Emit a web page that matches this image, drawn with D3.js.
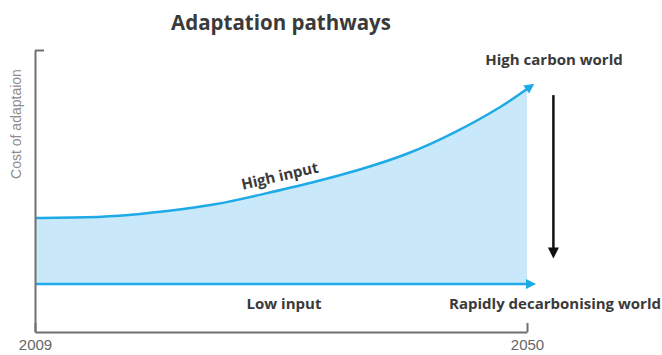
<!DOCTYPE html>
<html>
<head>
<meta charset="utf-8">
<script src="https://cdn.jsdelivr.net/npm/d3@7"></script>
<style>
  body { margin: 0; background: #fff; }
  svg { display: block; }
</style>
</head>
<body>
<svg width="662" height="355"></svg>
<script>
// data
const years = [2009, 2012, 2016, 2020, 2024, 2028, 2032, 2036, 2040, 2044, 2048, 2050];
const highInput = [40.4, 40.5, 41.0, 42.9, 45.0, 48.9, 52.8, 57.4, 62.8, 70.6, 80.1, 86.2];
const lowInput = [17, 17];
const lowYears = [2009, 2050];
const xTicks = [2009, 2050];
const shiftArrow = { year: 2052.2, from: 84, to: 26 };

const svg = d3.select("svg");

const x = d3.scaleLinear().domain([2009, 2050]).range([35, 527]);
const y = d3.scaleLinear().domain([0, 100]).range([332, 50]);

const blue = "#1eaae6";
const fill = "#c9e9fb";
const textCol = "#3a3a3a";

let high = years.map((d, i) => ({ year: d, v: highInput[i] }));
let low = lowYears.map((d, i) => ({ year: d, v: lowInput[i] }));

// markers
let defs = svg.append("defs");
defs.append("marker")
    .attr("id", "blueHead")
    .attr("viewBox", "0 0 10 10")
    .attr("refX", 1).attr("refY", 5)
    .attr("markerWidth", 12).attr("markerHeight", 10)
    .attr("markerUnits", "userSpaceOnUse")
    .attr("orient", "auto")
    .append("path")
    .attr("d", "M0,0L10,5L0,10z")
    .attr("fill", blue);
defs.append("marker")
    .attr("id", "blackHead")
    .attr("viewBox", "0 0 10 10")
    .attr("refX", 1).attr("refY", 5)
    .attr("markerWidth", 12).attr("markerHeight", 11)
    .attr("markerUnits", "userSpaceOnUse")
    .attr("orient", "auto")
    .append("path")
    .attr("d", "M0,0L10,5L0,10z")
    .attr("fill", "#111");

// shaded band between high and low input
let area = d3.area()
    .x(d => x(d.year))
    .y0(y(lowInput[0]))
    .y1(d => y(d.v))
    .curve(d3.curveBasis);

svg.append("path")
    .datum(high)
    .attr("d", area)
    .attr("fill", fill);

let line = d3.line()
    .x(d => x(d.year))
    .y(d => y(d.v))
    .curve(d3.curveBasis);

svg.append("path")
    .datum(high)
    .attr("d", line)
    .attr("fill", "none")
    .attr("stroke", blue)
    .attr("stroke-width", 2.5)
    .attr("marker-end", "url(#blueHead)");

svg.append("path")
    .datum(low)
    .attr("d", line)
    .attr("fill", "none")
    .attr("stroke", blue)
    .attr("stroke-width", 2.5)
    .attr("marker-end", "url(#blueHead)");

// axes
let xAxis = svg.append("g")
    .attr("transform", `translate(0,${y(0)})`)
    .call(d3.axisBottom(x).tickValues(xTicks).tickFormat(d3.format("d")).tickSize(-9).tickSizeOuter(0));

let yAxis = svg.append("g")
    .attr("transform", `translate(${x(2009)},0)`)
    .call(d3.axisLeft(y).tickValues([100]).tickFormat("").tickSize(-9).tickSizeOuter(0));

svg.selectAll(".domain, .tick line")
    .attr("stroke", "#707070")
    .attr("stroke-width", 2);

xAxis.selectAll(".tick text")
    .attr("y", 7)
    .attr("font-family", "Liberation Sans, Arial, sans-serif")
    .attr("font-size", 15)
    .attr("fill", "#666");

svg.append("text")
    .attr("transform", "translate(21,124) rotate(-90)")
    .attr("text-anchor", "middle")
    .attr("font-family", "Liberation Sans, Arial, sans-serif")
    .attr("font-size", 14)
    .attr("fill", "#8c8c8c")
    .text("Cost of adaptaion");

// shift arrow
svg.append("line")
    .attr("x1", x(shiftArrow.year)).attr("x2", x(shiftArrow.year))
    .attr("y1", y(shiftArrow.from)).attr("y2", y(shiftArrow.to) - 10)
    .attr("stroke", "#111")
    .attr("stroke-width", 2.5)
    .attr("marker-end", "url(#blackHead)");

// labels
const bold = "Open Sans, sans-serif";

function label(tx, ty, txt, size, anchor, rot) {
    svg.append("text")
        .attr("transform", `translate(${tx},${ty})` + (rot ? ` rotate(${rot})` : ""))
        .attr("text-anchor", anchor)
        .attr("font-family", bold)
        .attr("font-weight", "bold")
        .attr("font-size", size)
        .attr("fill", textCol)
        .text(txt);
}

label(281, 30, "Adaptation pathways", 20.5, "middle");
label(554, 65, "High carbon world", 15, "middle");
label(661, 309, "Rapidly decarbonising world", 15, "end");
label(284, 309, "Low input", 15, "middle");
label(281, 181, "High input", 15, "middle", -13);
</script>
</body>
</html>
